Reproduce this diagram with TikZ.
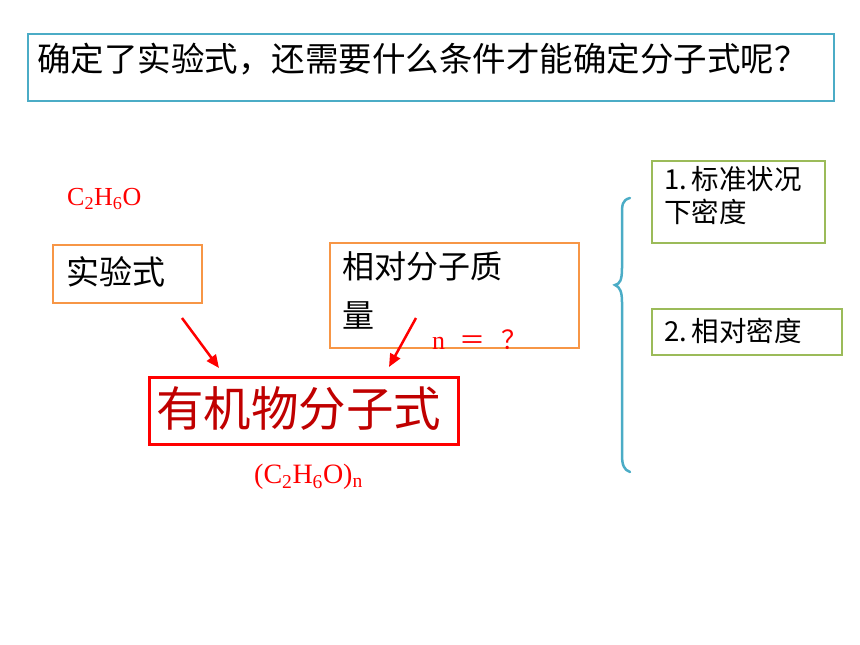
\documentclass[tikz,border=0pt]{standalone}
\usepackage{fontspec}
\setmainfont{Liberation Serif}
\newfontfamily\cjk{Noto Sans CJK SC}
\usetikzlibrary{arrows.meta}
\definecolor{tealc}{HTML}{4BACC6}
\definecolor{orangec}{HTML}{F79646}
\definecolor{greenc}{HTML}{9BBB59}
\definecolor{redc}{HTML}{FF0000}
\definecolor{dred}{HTML}{C00000}
\tikzset{
  frame/.style={draw, minimum width=#1, anchor=north west, inner sep=0pt},
  txt/.style={anchor=west, inner sep=0pt, align=left},
  redarrow/.style={draw=redc, line width=2.5pt, -{Triangle[length=13pt,width=11pt]}},
}
\begin{document}
\begin{tikzpicture}[x=1pt,y=-1pt]
\useasboundingbox (0,0) rectangle (860,645);
% top question box
\node[frame=806pt, draw=tealc, line width=2pt, minimum height=67pt] (q) at (27,33) {};
\node[txt, font=\cjk\fontsize{33.5}{38}\selectfont] (qt) at (37,59) {确定了实验式，还需要什么条件才能确定分子式呢？};
% C2H6O
\node[txt, text=redc, font=\fontsize{26}{30}\selectfont] (f1) at (67,199) {C$_{\mathrm{2}}$H$_{\mathrm{6}}$O};
% 实验式 box
\node[frame=149pt, draw=orangec, line width=1.5pt, minimum height=58pt] (sy) at (52,244) {};
\node[txt, font=\cjk\fontsize{33}{38}\selectfont] (syt) at (66,272) {实验式};
% 相对分子质量 box
\node[frame=249pt, draw=orangec, line width=1.5pt, minimum height=105pt] (xd) at (329,242) {};
\node[txt, font=\cjk\fontsize{32}{49}\selectfont, anchor=north west] (xdt) at (342,251) {相对分子质\\量};
\node[txt, text=redc, font=\fontsize{26}{30}\selectfont] (nq) at (432,340) {n\hspace{14pt}{\cjk ＝}\hspace{16pt}{\cjk ？}};
% 有机物分子式 box
\node[frame=309pt, draw=redc, line width=3pt, minimum height=67pt] (yj) at (148,376) {};
\node[txt, text=dred, font=\cjk\fontsize{47.5}{52}\selectfont] (yjt) at (156,409) {有机物分子式};
\node[txt, text=redc, font=\fontsize{28}{32}\selectfont] (f2) at (254,477) {(C$_{\mathrm{2}}$H$_{\mathrm{6}}$O)$_{\mathrm{n}}$};
% arrows
\coordinate (a1s) at (182,318);
\coordinate (a1e) at (219,368);
\coordinate (a2s) at (416,318);
\coordinate (a2e) at (389,367);
\draw[redarrow] (a1s) -- (a1e);
\draw[redarrow] (a2s) -- (a2e);
% brace
\coordinate (bt) at (630,198);
\coordinate (bm) at (615,285);
\coordinate (bb) at (630,472);
\draw[tealc, line width=2.5pt, line cap=round]
  (bt) .. controls (622,200) and (622,205) .. (622,215)
  -- (622,268) .. controls (622,280) and (620,284) .. (bm)
  .. controls (620,287) and (622,292) .. (622,302)
  -- (622,455) .. controls (622,465) and (624,470) .. (bb);
% green boxes
\node[frame=173pt, draw=greenc, line width=2pt, minimum height=82pt] (g1) at (651,160) {};
\node[txt, font=\cjk\fontsize{27.5}{33}\selectfont, anchor=north west] (g1t) at (664,166) {1.\,标准状况\\下密度};
\node[frame=190pt, draw=greenc, line width=2pt, minimum height=46pt] (g2) at (651,308) {};
\node[txt, font=\cjk\fontsize{27.5}{30}\selectfont] (g2t) at (664,331) {2.\,相对密度};
\end{tikzpicture}
\end{document}
